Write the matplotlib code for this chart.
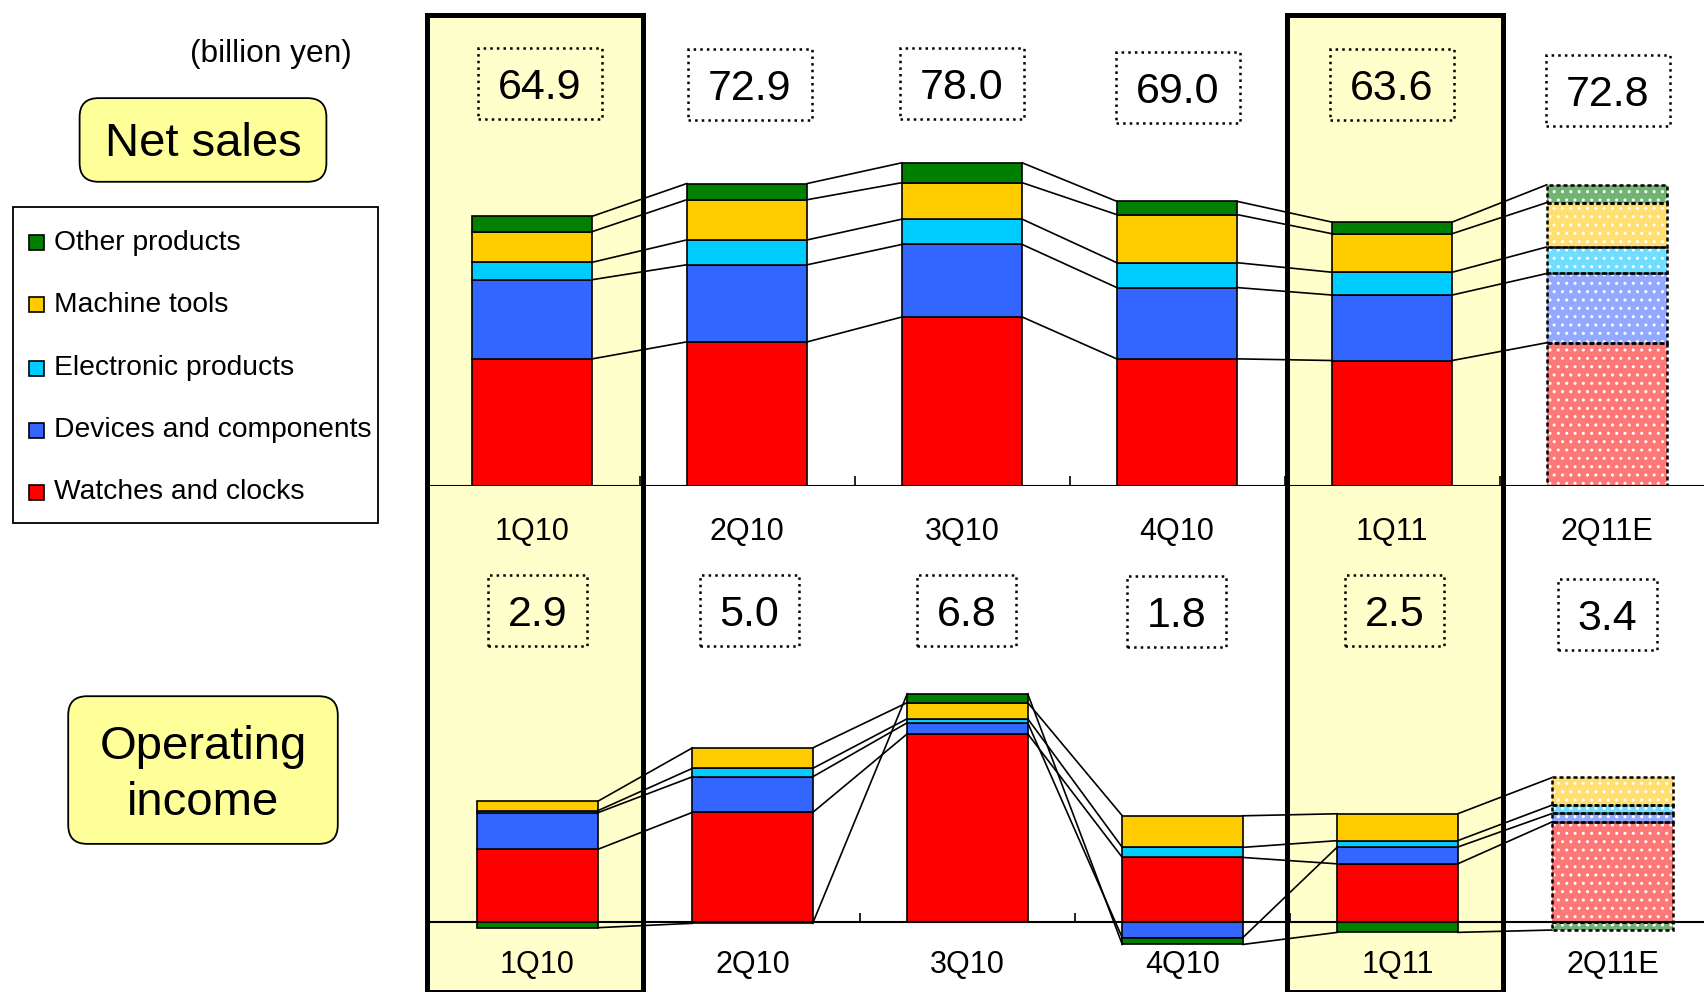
import numpy as np
import matplotlib
matplotlib.use('Agg')
import matplotlib.pyplot as plt
from matplotlib import transforms
from matplotlib.patches import Rectangle, BoxStyle

plt.rcParams['font.family'] = ['Liberation Sans', 'DejaVu Sans']

quarters = ['1Q10', '2Q10', '3Q10', '4Q10', '1Q11', '2Q11E']
highlighted = [0, 4]
forecast = 5

segments = ['Watches and clocks', 'Devices and components', 'Electronic products',
            'Machine tools', 'Other products']
colors = ['#FF0000', '#3366FF', '#00CCFF', '#FFCC00', '#008000']
light_colors = ['#FF7878', '#93A9FF', '#72DEFF', '#FFDE72', '#72B272']

# net sales by segment (billion yen)
sales_watches = [30.6, 34.7, 40.7, 30.6, 30.2, 34.5]
sales_devices = [19.1, 18.6, 17.5, 17.2, 15.8, 16.7]
sales_electronic = [4.2, 6.0, 6.1, 6.0, 5.5, 6.4]
sales_machine = [7.4, 9.7, 8.8, 11.6, 9.3, 10.7]
sales_other = [3.7, 3.9, 4.8, 3.2, 2.8, 4.3]
sales_total = [64.9, 72.9, 78.0, 69.0, 63.6, 72.8]

# operating income by segment (billion yen)
oi_watches = [2.17, 3.27, 5.61, 1.93, 1.74, 2.99]
oi_devices = [1.09, 1.06, 0.33, -0.46, 0.50, 0.25]
oi_electronic = [0.06, 0.25, 0.12, 0.30, 0.19, 0.25]
oi_machine = [0.28, 0.61, 0.48, 0.94, 0.80, 0.82]
oi_other = [-0.16, -0.03, 0.26, -0.20, -0.30, -0.23]
oi_total = [2.9, 5.0, 6.8, 1.8, 2.5, 3.4]

W, H = 1704, 992

# small hand placement of the total boxes (pixels), as in the slide
top_nudge_x = [8, 3, 0, 1, 0, 1]
top_nudge_y = [0, 1, 0, 4, 1, 7]
bot_nudge_x = [0, -3, -1, -6, -3, -5]
bot_nudge_y = [0, 0, 0, 1, 0, 4]


def fx(px):
    return px / W


def fy(py):
    return 1 - py / H


def padded(style, padx, pad_bottom, pad_top):
    # box with separate horizontal / vertical padding (in units of font size)
    def f(x0, y0, w, h, m):
        return style(x0 - padx * m, y0 - pad_bottom * m,
                     w + 2 * padx * m, h + (pad_bottom + pad_top) * m, m)
    return f


def stacked(ax, series, width=0.56):
    x = np.arange(len(quarters))
    pos = np.zeros(len(x))
    neg = np.zeros(len(x))
    ends = []
    act = x != forecast
    for vals, c, lc in zip(series, colors, light_colors):
        v = np.array(vals, dtype=float)
        bottom = np.where(v >= 0, pos, neg)
        end = bottom + v
        pos = np.where(v >= 0, end, pos)
        neg = np.where(v < 0, end, neg)
        ends.append(end)
        ax.bar(x[act], v[act], bottom=bottom[act], width=width, color=c,
               edgecolor='black', linewidth=1.2, zorder=3)
        # estimate bar: light dotted fill, dashed outline
        ax.bar(x[forecast], v[forecast], bottom=bottom[forecast], width=width,
               color=lc, linewidth=0, zorder=3)
        ax.bar(x[forecast], v[forecast], bottom=bottom[forecast], width=width,
               fill=False, hatch='..', edgecolor='white', linewidth=0, zorder=3.1)
        ax.bar(x[forecast], v[forecast], bottom=bottom[forecast], width=width,
               fill=False, edgecolor='black', linewidth=1.8,
               linestyle=(0, (1.6, 1.2)), zorder=3.2)
    # series lines
    for end in ends:
        for k in range(len(x) - 1):
            ax.plot([x[k] + width / 2, x[k + 1] - width / 2], [end[k], end[k + 1]],
                    color='black', linewidth=1.2, zorder=2)


def baseline(ax, tick_len):
    x = np.arange(len(quarters))
    ax.axhline(0, color='black', linewidth=1.5, zorder=4)
    ax.vlines(x[:-1] + 0.5, 0, tick_len, color='black', linewidth=1.2, zorder=4)


def labels(ax, totals, y_val, y_cat, dx, dy):
    tr = transforms.blended_transform_factory(ax.transData, ax.figure.transFigure)
    box = padded(BoxStyle('square', pad=0), 0.46, 0.25, 0.46)
    for i, (q, t) in enumerate(zip(quarters, totals)):
        off = transforms.offset_copy(tr, fig=ax.figure, x=dx[i], y=-dy[i], units='dots')
        ax.text(i, fy(y_val), '%.1f' % t, transform=off, ha='center',
                va='center', fontsize=31, zorder=5,
                bbox=dict(boxstyle=box, fc='none', ec='black',
                          linewidth=1.8, linestyle=':'))
        ax.text(i, fy(y_cat), q, transform=tr, ha='center', va='center',
                fontsize=22, zorder=5)


fig = plt.figure(figsize=(W / 100, H / 100), dpi=100)

# net sales panel: baseline at y=486 px, 4.145 px per billion yen
ax1 = fig.add_axes([fx(424.5), fy(485.7), fx(6 * 215), 485.7 / H])
ax1.set_xlim(-0.5, 5.5)
ax1.set_ylim(0, 485.7 / 4.145)
ax1.set_axis_off()

# highlight columns for actual quarters
tr1 = transforms.blended_transform_factory(ax1.transData, fig.transFigure)
for i in highlighted:
    ax1.add_patch(Rectangle((i - 0.49, 0), 1.005, fy(15), transform=tr1,
                            facecolor='#FFFFCC', edgecolor='black',
                            linewidth=3.6, clip_on=False, zorder=0))

stacked(ax1, [sales_watches, sales_devices, sales_electronic, sales_machine, sales_other])
baseline(ax1, 10 / 4.145)
labels(ax1, sales_total, 88.3, 532, top_nudge_x, top_nudge_y)

# operating income panel: baseline at y=922 px, 33.6 px per billion yen
ax2 = fig.add_axes([fx(430), fy(960), fx(6 * 215), 400 / H])
ax2.set_xlim(-0.5, 5.5)
ax2.set_ylim(-(960 - 922.3) / 33.6, (922.3 - 560) / 33.6)
ax2.set_axis_off()

stacked(ax2, [oi_watches, oi_devices, oi_electronic, oi_machine, oi_other])
baseline(ax2, 9 / 33.6)
labels(ax2, oi_total, 615.3, 965, bot_nudge_x, bot_nudge_y)

# left side captions
rbox = BoxStyle('round', pad=0, rounding_size=0.4)
fig.text(fx(271), fy(54), '(billion yen)', ha='center', va='center', fontsize=22.8)
fig.text(fx(203), fy(144.4), 'Net sales', ha='center', va='center', fontsize=34,
         bbox=dict(boxstyle=padded(rbox, 0.53, 0.326, 0.514), fc='#FFFF99',
                   ec='black', linewidth=1.3))
fig.text(fx(203), fy(775), 'Operating\nincome', ha='center', va='center',
         fontsize=34, linespacing=1.38,
         bbox=dict(boxstyle=padded(rbox, 0.66, 0.39, 0.60), fc='#FFFF99',
                   ec='black', linewidth=1.3))

# legend
fig.add_artist(Rectangle((fx(13), fy(523)), fx(365), 316 / H, transform=fig.transFigure,
                         facecolor='white', edgecolor='black', linewidth=1.3))
rows = [243, 305, 368, 430, 492]
for row, name, c in zip(rows, segments[::-1], colors[::-1]):
    fig.add_artist(Rectangle((fx(29), fy(row + 7.5)), fx(15), 15 / H,
                             transform=fig.transFigure, facecolor=c,
                             edgecolor='black', linewidth=1.2))
    fig.text(fx(54), fy(row), name, ha='left', va='center', fontsize=20.3)

plt.savefig('out.png', dpi=100)
